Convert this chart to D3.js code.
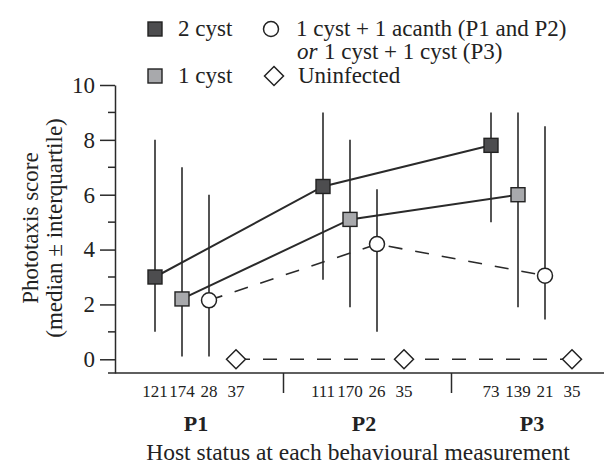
<!DOCTYPE html>
<html>
<head>
<meta charset="utf-8">
<script src="https://cdn.jsdelivr.net/npm/d3@7"></script>
<style>
    html, body { margin: 0; padding: 0; background: #fff; }
    svg { display: block; font-family: "Liberation Serif", "Times New Roman", serif; }
</style>
</head>
<body>
<div id="chart"></div>
<script>
// Phases and series
const periods = ['P1', 'P2', 'P3'];
const seriesKeys = ['twoCyst', 'oneCyst', 'mixed', 'uninfected'];

// Medians and interquartile ranges
const twoCystMedian = [3.0, 6.3, 7.8];
const twoCystLow = [1.0, 2.9, 5.0];
const twoCystHigh = [8.0, 9.0, 9.0];

const oneCystMedian = [2.2, 5.1, 6.0];
const oneCystLow = [0.1, 1.9, 1.9];
const oneCystHigh = [7.0, 8.0, 9.0];

const mixedMedian = [2.15, 4.2, 3.05];
const mixedLow = [0.1, 1.0, 1.45];
const mixedHigh = [6.0, 6.2, 8.5];

const uninfectedMedian = [0, 0, 0];

// Sample sizes per phase, in series order
const sampleSizes = [
    [121, 174, 28, 37],
    [111, 170, 26, 35],
    [73, 139, 21, 35]
];

const yTicks = [0, 2, 4, 6, 8, 10];
const yMinorTicks = [1, 3, 5, 7, 9];

const width = 606;
const height = 466;

const svg = d3.select('#chart')
    .append('svg')
    .attr('width', width)
    .attr('height', height);

const x0 = d3.scalePoint().domain(periods).range([196, 532]);
const x1 = d3.scalePoint().domain(seriesKeys).range([-41, 40]);
const xPos = (period, key) => x0(period) + x1(key);

const y = d3.scaleLinear().domain([-0.5, 10]).range([373, 85]);

const ink = '#2a2a2a';

// Axes
const yAxis = svg.append('g')
    .attr('transform', 'translate(115,0)')
    .call(d3.axisLeft(y).tickValues(yTicks).tickSize(15).tickSizeOuter(0).tickPadding(5));
yAxis.select('.domain').attr('stroke', ink).attr('stroke-width', 1.5);
yAxis.selectAll('.tick line').attr('stroke', ink).attr('stroke-width', 1.5);
yAxis.selectAll('.tick text')
    .attr('font-family', '"Liberation Serif", serif')
    .attr('font-size', 23)
    .attr('fill', '#222');

svg.append('g')
    .selectAll('line')
    .data(yMinorTicks)
    .join('line')
    .attr('x1', 108).attr('x2', 115)
    .attr('y1', d => y(d)).attr('y2', d => y(d))
    .attr('stroke', ink).attr('stroke-width', 1.5);

svg.append('line')
    .attr('x1', 108).attr('x2', 604)
    .attr('y1', y(-0.5)).attr('y2', y(-0.5))
    .attr('stroke', ink).attr('stroke-width', 1.5);

// Separators between phases
const separators = d3.pairs(periods).map(([a, b]) => (xPos(a, 'uninfected') + xPos(b, 'twoCyst')) / 2 + 4);
svg.append('g')
    .selectAll('line')
    .data(separators)
    .join('line')
    .attr('x1', d => d).attr('x2', d => d)
    .attr('y1', y(-0.5)).attr('y2', y(-0.5) + 20)
    .attr('stroke', ink).attr('stroke-width', 1.5);

// Sample size labels
periods.forEach((p, i) => {
    svg.append('g')
        .selectAll('text')
        .data(seriesKeys)
        .join('text')
        .attr('x', d => xPos(p, d))
        .attr('y', 397)
        .attr('text-anchor', 'middle')
        .attr('font-size', 17)
        .attr('fill', '#222')
        .text((d, j) => sampleSizes[i][j]);
});

svg.append('g')
    .selectAll('text')
    .data(periods)
    .join('text')
    .attr('x', d => x0(d))
    .attr('y', 431)
    .attr('text-anchor', 'middle')
    .attr('font-size', 22)
    .attr('font-weight', 'bold')
    .attr('fill', '#222')
    .text(d => d);

svg.append('text')
    .attr('x', 358)
    .attr('y', 460)
    .attr('text-anchor', 'middle')
    .attr('font-size', 23.5)
    .attr('fill', '#222')
    .text('Host status at each behavioural measurement');

// Y label
const yLabel = svg.append('text')
    .attr('transform', 'translate(38,228) rotate(-90)')
    .attr('text-anchor', 'middle')
    .attr('font-size', 23)
    .attr('fill', '#222');
yLabel.append('tspan').attr('x', 0).attr('y', 0).text('Phototaxis score');
yLabel.append('tspan').attr('x', 0).attr('y', 24).text('(median \u00b1 interquartile)');

// Series
const series = [
    { key: 'twoCyst', median: twoCystMedian, low: twoCystLow, high: twoCystHigh, shape: 'square', fill: '#4d4d4f', dash: null },
    { key: 'oneCyst', median: oneCystMedian, low: oneCystLow, high: oneCystHigh, shape: 'square', fill: '#a8a9ac', dash: null },
    { key: 'mixed', median: mixedMedian, low: mixedLow, high: mixedHigh, shape: 'circle', fill: '#fff', dash: '14,13' },
    { key: 'uninfected', median: uninfectedMedian, low: null, high: null, shape: 'diamond', fill: '#fff', dash: '14,13' }
];

const line = d3.line().x(d => d.x).y(d => d.y);

series.forEach(s => {
    const pts = periods.map((p, i) => ({
        x: xPos(p, s.key),
        y: y(s.median[i]),
        lo: s.low ? y(s.low[i]) : null,
        hi: s.high ? y(s.high[i]) : null
    }));

    svg.append('path')
        .datum(pts)
        .attr('d', line)
        .attr('fill', 'none')
        .attr('stroke', ink)
        .attr('stroke-width', s.dash ? 1.6 : 2)
        .attr('stroke-dasharray', s.dash);

    if (s.low) {
        svg.append('g')
            .selectAll('line')
            .data(pts)
            .join('line')
            .attr('x1', d => d.x).attr('x2', d => d.x)
            .attr('y1', d => d.lo).attr('y2', d => d.hi)
            .attr('stroke', ink)
            .attr('stroke-width', 1.6);
    }

    s.points = pts;
});

function drawMarker(g, shape, fill, cx, cy) {
    if (shape === 'square') {
        g.append('rect')
            .attr('x', cx - 7).attr('y', cy - 7)
            .attr('width', 14).attr('height', 14)
            .attr('fill', fill)
            .attr('stroke', '#222').attr('stroke-width', 1.4);
    } else if (shape === 'circle') {
        g.append('circle')
            .attr('cx', cx).attr('cy', cy).attr('r', 7.5)
            .attr('fill', fill)
            .attr('stroke', '#222').attr('stroke-width', 1.5);
    } else {
        g.append('path')
            .attr('d', `M${cx},${cy - 9.5}L${cx + 9.5},${cy}L${cx},${cy + 9.5}L${cx - 9.5},${cy}Z`)
            .attr('fill', fill)
            .attr('stroke', '#222').attr('stroke-width', 1.5);
    }
}

const markers = svg.append('g');
series.forEach(s => {
    s.points.forEach(p => drawMarker(markers, s.shape, s.fill, p.x, p.y));
});

// Legend
const legend = svg.append('g')
    .attr('font-size', 23)
    .attr('fill', '#222');

drawMarker(legend, 'square', '#4d4d4f', 155, 29);
legend.append('text').attr('x', 178).attr('y', 36).text('2 cyst');
drawMarker(legend, 'circle', '#fff', 271, 29);
legend.append('text').attr('x', 296).attr('y', 36).text('1 cyst + 1 acanth (P1 and P2)');
legend.append('text').attr('x', 297).attr('y', 59).attr('font-style', 'italic').text('or');
legend.append('text').attr('x', 324).attr('y', 59).text('1 cyst + 1 cyst (P3)');
drawMarker(legend, 'square', '#a8a9ac', 155, 76);
legend.append('text').attr('x', 178).attr('y', 83).text('1 cyst');
drawMarker(legend, 'diamond', '#fff', 274, 76);
legend.append('text').attr('x', 298).attr('y', 83).text('Uninfected');
</script>
</body>
</html>
